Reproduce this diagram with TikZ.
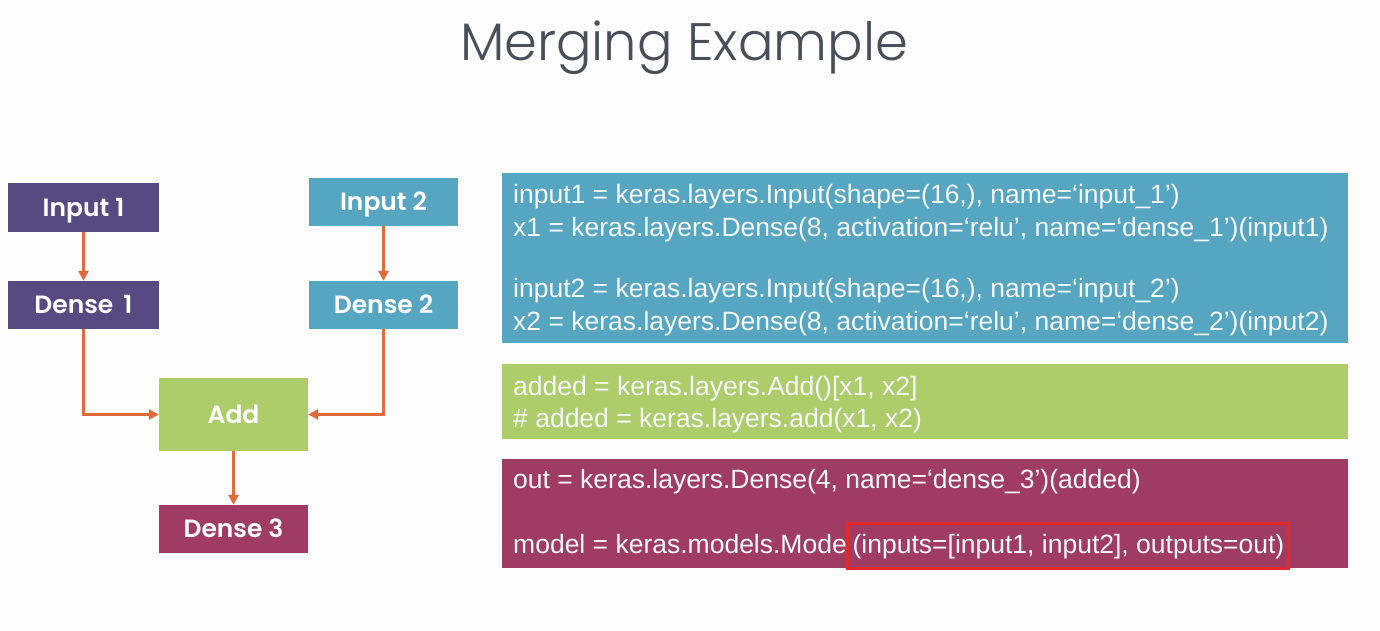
\documentclass[tikz,border=0pt]{standalone}
\usepackage{fontspec}
\setmainfont{Liberation Sans}
\newfontfamily\titlefont{Poppins Light}
\newfontfamily\boxfont{Poppins SemiBold}
\usetikzlibrary{arrows.meta}

\definecolor{bgcol}{RGB}{253,253,253}
\definecolor{purplebox}{RGB}{87,74,130}
\definecolor{tealbox}{RGB}{86,166,194}
\definecolor{greenbox}{RGB}{173,204,106}
\definecolor{maroonbox}{RGB}{160,60,100}
\definecolor{arrowcol}{RGB}{226,105,58}
\definecolor{titlecol}{RGB}{72,78,90}
\definecolor{codetext}{RGB}{246,249,250}
\definecolor{hlred}{RGB}{226,40,40}

\tikzset{
  layer/.style={rectangle, inner sep=0pt, text=white,
    text height=17.5pt, text depth=0pt,
    font=\boxfont\fontsize{25}{28}\selectfont},
  codebox/.style={rectangle, inner sep=0pt},
  codeline/.style={anchor=base west, inner sep=0pt, text=codetext,
    font=\fontsize{26.5}{32}\selectfont},
  flow/.style={draw=arrowcol, line width=2.8pt,
    -{Triangle[length=10pt,width=10pt]}},
}

\begin{document}
\begin{tikzpicture}[x=1pt, y=-1pt]
  % canvas
  \fill[bgcol] (0,0) rectangle (1380,630);
  \useasboundingbox (0,0) rectangle (1380,630);

  % title
  \node[anchor=base, inner sep=0pt, text=titlecol,
        font=\titlefont\fontsize{52.7}{62}\selectfont] (title) at (684,60) {Merging Example};

  % layer graph
  \node[layer, fill=purplebox, minimum width=151pt, minimum height=49pt] (in1) at (83.5,207.5) {Input 1};
  \node[layer, fill=purplebox, minimum width=151pt, minimum height=48pt] (d1) at (83.5,305) {Dense~\,1};
  \node[layer, fill=tealbox, minimum width=149pt, minimum height=48pt] (in2) at (383.5,202) {Input 2};
  \node[layer, fill=tealbox, minimum width=149pt, minimum height=48pt] (d2) at (383.5,305) {Dense 2};
  \node[layer, fill=greenbox, minimum width=149pt, minimum height=73pt] (add) at (233.5,414.5) {Add};
  \node[layer, fill=maroonbox, minimum width=149pt, minimum height=48pt] (d3) at (233.5,529) {Dense 3};

  \draw[flow] (in1) -- (d1);
  \draw[flow] (in2) -- (d2);
  \draw[flow] (d1.south) |- (add.west);
  \draw[flow] (d2.south) |- (add.east);
  \draw[flow] (add) -- (d3);

  % code panels
  \node[codebox, fill=tealbox, minimum width=846pt, minimum height=170pt] (cb1) at (925,258) {};
  \node[codebox, fill=greenbox, minimum width=846pt, minimum height=75pt] (cb2) at (925,401.5) {};
  \node[codebox, fill=maroonbox, minimum width=846pt, minimum height=109pt] (cb3) at (925,513.5) {};

  \node[codeline] (l1) at (513,203) {input1 = keras.layers.Input(shape=(16,), name=‘input\_1’)};
  \node[codeline] (l2) at (513,236) {x1 = keras.layers.Dense(8, activation=‘relu’, name=‘dense\_1’)(input1)};
  \node[codeline] (l3) at (513,297) {input2 = keras.layers.Input(shape=(16,), name=‘input\_2’)};
  \node[codeline] (l4) at (513,330) {x2 = keras.layers.Dense(8, activation=‘relu’, name=‘dense\_2’)(input2)};
  \node[codeline] (l5) at (513,395) {added = keras.layers.Add()[x1, x2]};
  \node[codeline] (l6) at (513,427) {\# added = keras.layers.add(x1, x2)};
  \node[codeline] (l7) at (513,488) {out = keras.layers.Dense(4, name=‘dense\_3’)(added)};
  \node[codeline] (l8) at (513,553) {model = keras.models.Mode\phantom{l}(inputs=[input1, input2], outputs=out)};

  % highlight around the model arguments
  \node[draw=hlred, line width=3pt, inner sep=0pt, minimum width=441pt, minimum height=45pt] (hl) at (1067.5,545.5) {};
\end{tikzpicture}
\end{document}
